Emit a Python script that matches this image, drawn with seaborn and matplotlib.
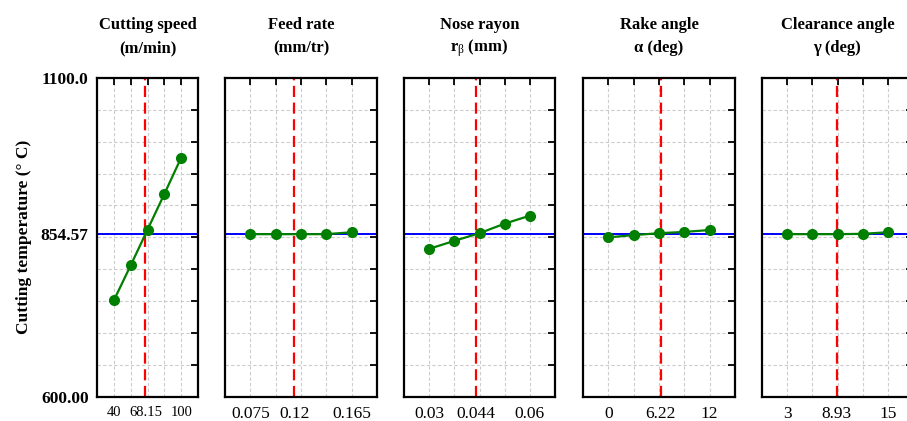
import matplotlib
matplotlib.use("Agg")
import matplotlib.pyplot as plt
import seaborn as sns

# factor levels and predicted cutting temperature
titles = [("Cutting speed", "(m/min)"), ("Feed rate", "(mm/tr)"),
          ("Nose rayon", "r$_\\mathrm{\\beta}$ (mm)"),
          ("Rake angle", "α (deg)"), ("Clearance angle", "γ (deg)")]
levels = [
    [40, 55, 70, 85, 100],
    [0.075, 0.0975, 0.12, 0.1425, 0.165],
    [0.03, 0.0375, 0.045, 0.0525, 0.06],
    [0, 3, 6, 9, 12],
    [3, 6, 9, 12, 15],
]
temps = [
    [751, 806, 862, 918, 975],
    [855, 855, 855, 855, 858],
    [832, 844.5, 856.5, 871.5, 884],
    [850, 853.5, 856.5, 858.5, 861.5],
    [855, 855, 855, 855.5, 858],
]
end_labels = [["40", "100"], ["0.075", "0.165"], ["0.03", "0.06"], ["0", "12"], ["3", "15"]]
optimum = [68.15, 0.114, 0.044, 6.22, 8.93]
optimum_labels = ["68.15", "0.12", "0.044", "6.22", "8.93"]
target_temp = 854.57
y_min, y_max = 600, 1100

sns.set_style("white")
plt.rcParams['font.family'] = ['Liberation Serif', 'DejaVu Serif']
plt.rcParams['mathtext.fontset'] = 'custom'
plt.rcParams['mathtext.rm'] = 'Liberation Serif'
plt.rcParams['mathtext.it'] = 'Liberation Serif:italic'
plt.rcParams['mathtext.bf'] = 'Liberation Serif:bold'
for k in ['text.color', 'axes.labelcolor', 'xtick.color', 'ytick.color']:
    plt.rcParams[k] = 'black'

W, H = 907, 421
fig = plt.figure(figsize=(W / 100, H / 100), dpi=100)

# panel edges in pixels
lefts = [97, 225, 404, 583, 762]
widths = [101, 152, 151, 152, 151]
top_px, bot_px = 78, 396.7

for i in range(5):
    ax = fig.add_axes([lefts[i] / W, 1 - bot_px / H, widths[i] / W, (bot_px - top_px) / H])
    lv = levels[i]
    step = lv[1] - lv[0]
    ax.set_xlim(lv[0] - step, lv[-1] + step)
    ax.set_ylim(y_min, y_max)

    ax.axhline(target_temp, color='#0000ff', lw=1.4, zorder=2)
    ax.axvline(optimum[i], color='#ff0000', lw=1.6, dashes=(5, 2.5), zorder=2)
    sns.lineplot(x=lv, y=temps[i], ax=ax, color='#007f00', lw=1.6, marker='o',
                 markersize=8, markeredgewidth=0, zorder=3)

    # grid / ticks
    ax.set_xticks(lv)
    ax.set_xticklabels([end_labels[i][0], "", "", "", end_labels[i][1]])
    ax.set_xticks([optimum[i]], minor=True)
    ax.set_xticklabels([optimum_labels[i]], minor=True)
    yt = list(range(y_min, y_max + 1, 50))
    ax.set_yticks(yt)
    if i == 0:
        ax.set_yticklabels(["600.00"] + [""] * (len(yt) - 2) + ["1100.0"],
                           fontweight='bold', fontsize=12.5)
        ax.set_yticks([target_temp], minor=True)
        ax.set_yticklabels(["854.57"], minor=True, fontweight='bold', fontsize=12.5)
        ax.set_ylabel("Cutting temperature (° C)", fontweight='bold', fontsize=12.5, labelpad=6)
    else:
        ax.set_yticklabels([])

    xfs = 10.5 if i == 0 else 12.5
    ax.tick_params(axis='both', which='major', direction='in', length=5, width=1.3,
                   top=True, right=True, color='black')
    ax.tick_params(axis='x', which='both', labelsize=xfs, pad=7)
    ax.tick_params(axis='y', which='both', pad=6)
    ax.tick_params(which='minor', length=0)
    ax.grid(True, which='major', color='#cccccc', lw=0.8, dashes=(3, 2))
    ax.set_axisbelow(True)
    for s in ax.spines.values():
        s.set_linewidth(1.6)
        s.set_color('black')

    # two-line panel heading, baselines fixed in pixels
    cx = (lefts[i] + widths[i] / 2) / W
    fig.text(cx, 1 - 29 / H, titles[i][0], ha='center', va='baseline',
             fontweight='bold', fontsize=12)
    fig.text(cx, 1 - 52 / H, titles[i][1], ha='center', va='baseline',
             fontweight='bold', fontsize=12)

fig.savefig("out.png", dpi=100)
